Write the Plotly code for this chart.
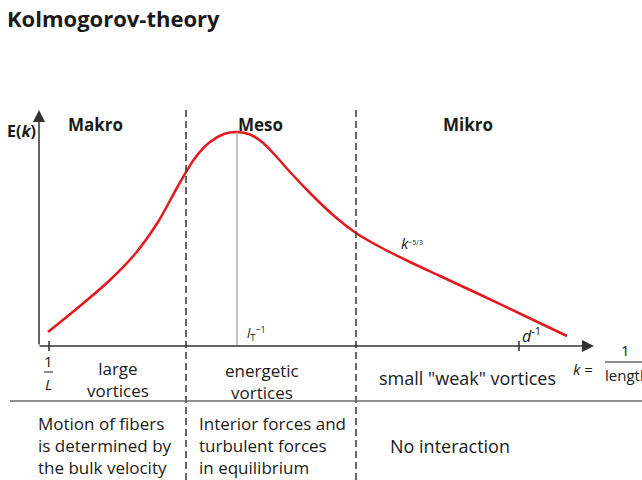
import plotly.graph_objects as go

# Energy spectrum E(k) sampled along the sketch (arbitrary units)
k_vals = [0.9, 4.1, 7.1, 9.6, 11.9, 13.9, 15.6, 17.1, 18.5, 19.8,
          21.1, 22.3, 23.6, 25.1, 27.1, 29.4, 31.7, 34.1, 37.1, 40.1, 44.4, 48.6, 52.8]
E_vals = [1.4, 4.0, 6.6, 9.2, 12.4, 16.0, 18.8, 20.4, 21.2, 21.4,
          21.15, 20.4, 19.1, 17.4, 15.3, 13.1, 11.3, 9.9, 8.4, 7.0, 5.0, 3.0, 1.0]

# Characteristic wavenumbers
k_L = 1.0        # 1/L
k_T = 19.8       # l_T^-1 (peak)
E_peak = 21.4
k_d = 48.0       # d^-1
region_bounds = [14.7, 31.7]

region_names = ["Makro", "Meso", "Mikro"]
size_labels = ["large<br>vortices", "energetic<br>vortices", 'small "weak" vortices']
interaction_labels = ["Motion of fibers<br>is determined by<br>the bulk velocity",
                      "Interior forces and<br>turbulent forces<br>in equilibrium",
                      "No interaction"]

W, H = 642, 480
X0, Y0, SC = 39, 346, 10.0   # axis origin in page pixels, pixels per unit


def X(px):
    return (px - X0) / SC


def Y(py):
    return (Y0 - py) / SC


FONT = "Open Sans"
TXT = "#1a1a1a"

fig = go.Figure()

# spectrum curve
fig.add_trace(go.Scatter(x=k_vals, y=E_vals, mode="lines",
                         line=dict(color="#e3191f", width=2.5, shape="spline", smoothing=0.9),
                         hoverinfo="skip", showlegend=False))

shapes = []
# region boundaries (dashed)
for kb in region_bounds:
    shapes.append(dict(type="line", xref="x", yref="y", x0=kb, x1=kb, y0=Y(110), y1=Y(482),
                       line=dict(color="#404040", width=1.6, dash="7px,4px")))
# peak marker line
shapes.append(dict(type="line", xref="x", yref="y", x0=k_T, x1=k_T, y0=E_peak, y1=0,
                   line=dict(color="#9a9a9a", width=1.2)))
# ticks on the k axis
for kt in [k_L, k_d]:
    shapes.append(dict(type="line", xref="x", yref="y", x0=kt, x1=kt, y0=Y(341), y1=Y(351),
                       line=dict(color="#333333", width=1.5)))
# separator between rows
shapes.append(dict(type="line", xref="x", yref="y", x0=X(10), x1=X(645), y0=Y(401), y1=Y(401),
                   line=dict(color="#6a6a6a", width=1.5)))
# fraction bars
shapes.append(dict(type="line", xref="x", yref="y", x0=X(44), x1=X(53), y0=Y(372), y1=Y(372),
                   line=dict(color=TXT, width=1)))
shapes.append(dict(type="line", xref="x", yref="y", x0=X(605), x1=X(645), y0=Y(362), y1=Y(362),
                   line=dict(color=TXT, width=1)))

ann = []
# axes with arrowheads
ann.append(dict(x=X(39), y=Y(110), ax=X(39), ay=0, xref="x", yref="y", axref="x", ayref="y",
                text="", showarrow=True, arrowhead=2, arrowsize=1.6, arrowwidth=1.5,
                arrowcolor="#333333"))
ann.append(dict(x=X(594), y=0, ax=X(38), ay=0, xref="x", yref="y", axref="x", ayref="y",
                text="", showarrow=True, arrowhead=2, arrowsize=1.6, arrowwidth=1.5,
                arrowcolor="#333333"))


def txt(text, px, py, size=17, xanchor="center", align="center", bold=False):
    if bold:
        text = "<b>" + text + "</b>"
    ann.append(dict(x=X(px), y=Y(py), xref="x", yref="y", text=text, showarrow=False,
                    xanchor=xanchor, yanchor="middle", align=align, borderpad=0,
                    font=dict(family=FONT, size=size, color=TXT)))


txt("Kolmogorov-theory", 6, 18, size=22, xanchor="left", bold=True)
txt("E(<i>k</i>)", 6, 131, size=16, xanchor="left", bold=True)

region_x = [95, 260, 468]
for name, px in zip(region_names, region_x):
    txt(name, px, 124, size=17, bold=True)

txt("<i>k</i><span style='font-size:10px'><sup>−5/3</sup></span>", 400, 243, size=15,
    xanchor="left")
txt("<i>l</i><sub>T</sub><sup>−1</sup>", 246, 333, size=13, xanchor="left")
txt("<i>d</i><sup>-1</sup>", 521, 335, size=16, xanchor="left")

txt("1", 48, 361, size=15)
txt("<i>L</i>", 48, 384, size=15)

txt("<i>k</i> =", 572, 369, size=15, xanchor="left")
txt("1", 625, 350, size=15)
txt("length", 604, 375, size=15, xanchor="left")

txt(size_labels[0], 118, 379)
txt(size_labels[1], 262, 381)
txt(size_labels[2], 467, 378, size=18)

txt(interaction_labels[0], 37, 445, xanchor="left", align="left")
txt(interaction_labels[1], 198, 445, xanchor="left", align="left")
txt(interaction_labels[2], 389, 446, size=18, xanchor="left", align="left")

fig.update_layout(
    width=W, height=H, margin=dict(l=0, r=0, t=0, b=0),
    paper_bgcolor="white", plot_bgcolor="white",
    xaxis=dict(range=[X(0), X(W)], visible=False, fixedrange=True),
    yaxis=dict(range=[Y(H), Y(0)], visible=False, fixedrange=True),
    shapes=shapes, annotations=ann, showlegend=False,
)

fig.write_html("out.html")
